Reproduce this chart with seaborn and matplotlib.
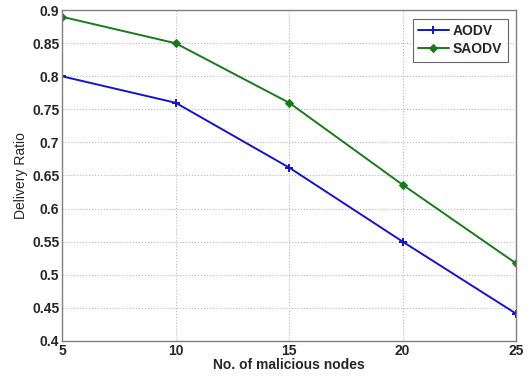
import matplotlib
matplotlib.use("Agg")
import matplotlib.pyplot as plt
import seaborn as sns
import pandas as pd

nodes = [5, 10, 15, 20, 25]
aodv = [0.80, 0.76, 0.662, 0.55, 0.441]
saodv = [0.89, 0.85, 0.76, 0.636, 0.517]
xticks = [5, 10, 15, 20, 25]
yticks = [0.4, 0.45, 0.5, 0.55, 0.6, 0.65, 0.7, 0.75, 0.8, 0.85, 0.9]
ytick_labels = ["0.4", "0.45", "0.5", "0.55", "0.6", "0.65", "0.7", "0.75", "0.8", "0.85", "0.9"]

df_a = pd.DataFrame({"nodes": nodes, "ratio": aodv})
df_s = pd.DataFrame({"nodes": nodes, "ratio": saodv})

sns.set_style("white")
plt.rcParams['font.family'] = ['Liberation Sans', 'DejaVu Sans']

fig = plt.figure(figsize=(5.31, 3.77), dpi=100)
ax = fig.add_axes([0.117, 0.096, 0.855, 0.877])

blue = "#1414c8"
green = "#1a7a1a"
sns.lineplot(data=df_a, x="nodes", y="ratio", color=blue, marker="+",
             markersize=6, markeredgewidth=1.4, markeredgecolor=blue,
             linewidth=1.4, label="AODV", ax=ax)
sns.lineplot(data=df_s, x="nodes", y="ratio", color=green, marker="D",
             markersize=4, markeredgecolor=green, markerfacecolor=green,
             linewidth=1.4, label="SAODV", ax=ax)

ax.set_xlim(5, 25)
ax.set_ylim(0.4, 0.9)
ax.set_xticks(xticks)
ax.set_xticklabels([str(x) for x in xticks], fontweight="bold", fontsize=10)
ax.set_yticks(yticks)
ax.set_yticklabels(ytick_labels, fontweight="bold", fontsize=10)
ax.grid(True, linestyle=":", color="#b8b8b8", linewidth=0.8)
ax.tick_params(axis="both", direction="in", length=3, pad=2)
ax.set_xlabel("No. of malicious nodes", fontweight="bold", fontsize=10, labelpad=0)
ax.set_ylabel("Delivery Ratio", fontsize=10, labelpad=3)
for sp in ax.spines.values():
    sp.set_color("#808080")
    sp.set_linewidth(1.0)

leg = ax.legend(loc="upper right", fontsize=10, frameon=True, fancybox=False,
                borderaxespad=0.6, handlelength=2.2, handletextpad=0.3,
                borderpad=0.4, labelspacing=0.3)
for t in leg.get_texts():
    t.set_fontweight("bold")
leg.get_frame().set_edgecolor("#404040")
leg.get_frame().set_linewidth(0.8)

fig.savefig("out.png", dpi=100)
